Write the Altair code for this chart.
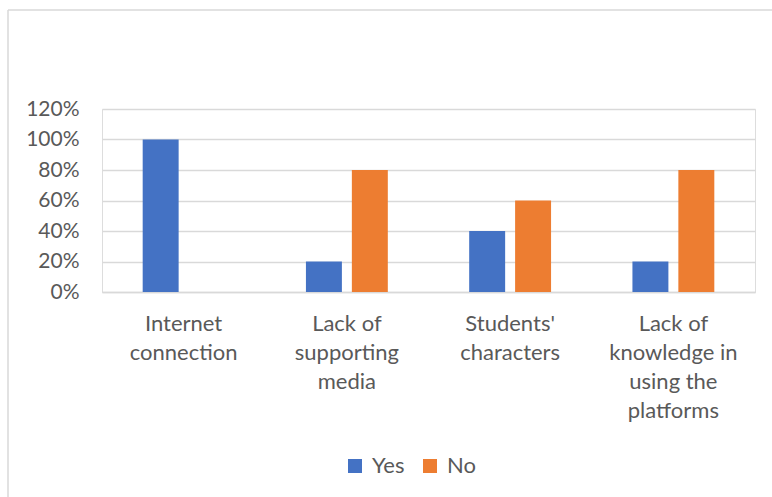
import json
import altair as alt
import pandas as pd

categories = [
    "Internet connection",
    "Lack of supporting media",
    "Students' characters",
    "Lack of knowledge in using the platforms",
]
category_lines = [
    ["Internet", "connection"],
    ["Lack of", "supporting", "media"],
    ["Students'", "characters"],
    ["Lack of", "knowledge in", "using the", "platforms"],
]
series = ["Yes", "No"]
yes_values = [1.0, 0.2, 0.4, 0.2]
no_values = [0.0, 0.8, 0.6, 0.8]
y_ticks = [0, 0.2, 0.4, 0.6, 0.8, 1.0, 1.2]
colors = ["#4472C4", "#ED7D31"]

rows = []
for c, y, n in zip(categories, yes_values, no_values):
    rows.append({"category": c, "series": "Yes", "value": y})
    rows.append({"category": c, "series": "No", "value": n})
df = pd.DataFrame(rows)

label_map = json.dumps(dict(zip(categories, category_lines)))
FONT = "Lato"
GRAY = "#595959"

bars = alt.Chart(df).mark_bar().encode(
    x=alt.X(
        "category:N",
        sort=categories,
        scale=alt.Scale(paddingInner=0, paddingOuter=0),
        axis=alt.Axis(
            title=None,
            labelAngle=0,
            ticks=False,
            domain=True,
            domainColor="#d9d9d9",
            domainWidth=1.5,
            labelFont=FONT,
            labelFontSize=22,
            labelColor=GRAY,
            labelLineHeight=29,
            labelPadding=21,
            labelBaseline="top",
            labelExpr=f"{label_map}[datum.label]",
        ),
    ),
    xOffset=alt.XOffset(
        "series:N",
        sort=series,
        scale=alt.Scale(paddingInner=0.217, paddingOuter=0.886),
    ),
    y=alt.Y(
        "value:Q",
        scale=alt.Scale(domain=[0, 1.2], nice=False),
        axis=alt.Axis(
            title=None,
            values=y_ticks,
            format=".0%",
            ticks=False,
            domain=False,
            gridColor="#d9d9d9",
            gridWidth=1.5,
            labelFont=FONT,
            labelFontSize=21,
            labelColor=GRAY,
            labelPadding=23,
        ),
    ),
    color=alt.Color(
        "series:N",
        sort=series,
        scale=alt.Scale(domain=series, range=colors),
        legend=alt.Legend(
            title=None,
            orient="none",
            legendX=242,
            legendY=346,
            direction="horizontal",
            symbolType="square",
            symbolSize=196,
            symbolStrokeWidth=0,
            labelFont=FONT,
            labelFontSize=22,
            labelColor=GRAY,
            labelOffset=6,
            columnPadding=14,
        ),
    ),
)

frame = pd.DataFrame({"k": [0]})
top_edge = alt.Chart(frame).mark_rule(color="#d9d9d9", strokeWidth=1.5).encode(
    x=alt.value(8 - 102),
    x2=alt.value(772 - 102),
    y=alt.value(10 - 109),
)
left_edge = alt.Chart(frame).mark_rule(color="#d9d9d9", strokeWidth=1.5).encode(
    x=alt.value(8 - 102),
    y=alt.value(10 - 109),
    y2=alt.value(497 - 109),
)

chart = alt.layer(top_edge, left_edge, bars).properties(
    width=653,
    height=183,
    autosize=alt.AutoSizeParams(type="none"),
    padding={"left": 102, "top": 109, "right": 17, "bottom": 205},
).configure_view(stroke=None).configure(background="white")

chart.save("out.html", embed_options={"renderer": "svg", "actions": False})
